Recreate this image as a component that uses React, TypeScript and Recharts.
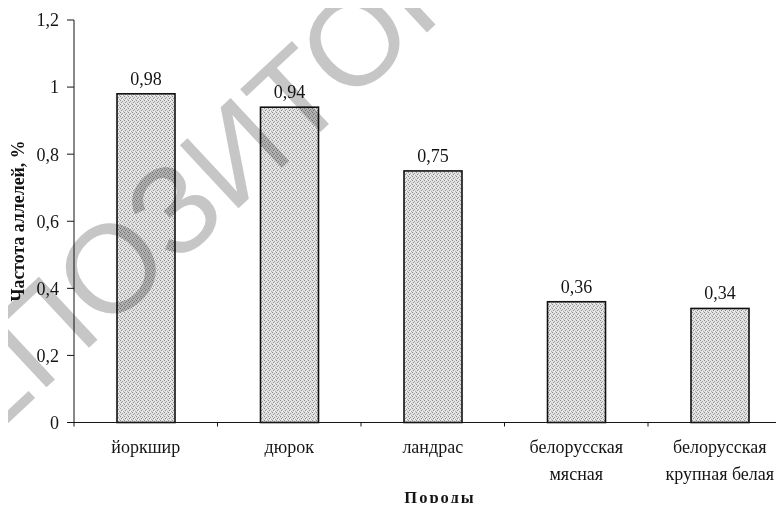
import { Bar, BarChart, LabelList, XAxis, YAxis } from 'recharts'

// Частота аллелей по породам свиней
const breeds = ['йоркшир', 'дюрок', 'ландрас', 'белорусская\nмясная', 'белорусская\nкрупная белая']
const frequencies = [0.98, 0.94, 0.75, 0.36, 0.34]
const yTicks = [0, 0.2, 0.4, 0.6, 0.8, 1, 1.2]

const data = breeds.map((breed, i) => ({ breed, value: frequencies[i] }))

const CHART_W = 800
const CHART_H = 511
const Y_AXIS_W = 74
const MARGIN = { top: 20, right: 8.5, bottom: 0, left: 0 }
const BAND = (CHART_W - MARGIN.right - Y_AXIS_W) / breeds.length
const SERIF = "'Liberation Serif', 'Times New Roman', serif"
const INK = '#151515'

const comma = (v: unknown) => String(v).replace('.', ',')

function BreedTick({ x, y, payload, index }: any) {
  const lines = String(payload.value).split('\n')
  const half = BAND / 2
  return (
    <g>
      {lines.map((line, i) => (
        <text
          key={i}
          x={x}
          y={y + 30 + i * 27}
          textAnchor="middle"
          fontFamily={SERIF}
          fontSize={18}
          fill={INK}
        >
          {line}
        </text>
      ))}
      {index === 0 ? <line x1={x - half} x2={x - half} y1={y} y2={y + 4} stroke={INK} /> : null}
      <line x1={x + half} x2={x + half} y1={y} y2={y + 4} stroke={INK} />
    </g>
  )
}

function StippleBar(props: any) {
  const { x, y, width, height } = props
  return (
    <rect
      x={x}
      y={y}
      width={width}
      height={height}
      fill="url(#stipple)"
      stroke="#111"
      strokeWidth={1.6}
    />
  )
}

export default function App() {
  return (
    <div
      style={{
        margin: -8,
        width: 784,
        height: 511,
        overflow: 'hidden',
        position: 'relative',
        background: '#fff',
      }}
    >
      {/* stippled fill, referenced from the chart's bars */}
      <svg width={0} height={0} style={{ position: 'absolute' }}>
        <defs>
          <pattern id="stipple" width={4} height={4} patternUnits="userSpaceOnUse">
            <rect width={4} height={4} fill="#e2e2e2" />
            <rect x={0} y={0} width={1} height={1} fill="#8c8c8c" />
            <rect x={2} y={1} width={1} height={1} fill="#a4a4a4" />
            <rect x={1} y={2} width={1} height={1} fill="#8c8c8c" />
            <rect x={3} y={3} width={1} height={1} fill="#a8a8a8" />
            <rect x={2} y={3} width={1} height={1} fill="#f6f6f6" />
          </pattern>
        </defs>
      </svg>
      <BarChart width={CHART_W} height={CHART_H} data={data} margin={MARGIN}>
        <XAxis
          dataKey="breed"
          height={88.5}
          interval={0}
          tickSize={0}
          tickMargin={0}
          tick={<BreedTick />}
          axisLine={{ stroke: INK, strokeWidth: 1 }}
          label={{
            content: () => (
              <text
                x={440}
                y={503}
                textAnchor="middle"
                fontFamily={SERIF}
                fontWeight="bold"
                fontSize={16.5}
                letterSpacing={2}
                fill={INK}
              >
                Породы
              </text>
            ),
          }}
        />
        <YAxis
          width={Y_AXIS_W}
          domain={[0, 1.2]}
          ticks={yTicks}
          interval={0}
          tickSize={7}
          tickMargin={8}
          tickFormatter={comma}
          tick={{ fontFamily: SERIF, fontSize: 18, fill: INK }}
          tickLine={{ stroke: INK }}
          axisLine={{ stroke: INK, strokeWidth: 1 }}
          label={{
            content: () => (
              <text
                x={24}
                y={221}
                transform="rotate(-90 24 221)"
                textAnchor="middle"
                fontFamily={SERIF}
                fontWeight="bold"
                fontSize={17.8}
                fill={INK}
              >
                Частота аллелей, %
              </text>
            ),
          }}
        />
        <Bar dataKey="value" barSize={58} shape={<StippleBar />} isAnimationActive={false}>
          <LabelList
            dataKey="value"
            position="top"
            offset={9}
            formatter={comma}
            fontFamily={SERIF}
            fontSize={18}
            fill={INK}
          />
        </Bar>
      </BarChart>
      {/* repository watermark lying across the chart */}
      <svg
        width={784}
        height={511}
        style={{ position: 'absolute', left: 0, top: 0, pointerEvents: 'none', mixBlendMode: 'multiply' }}
      >
        <text
          x={-83}
          y={508}
          transform="rotate(-43 -83 508)"
          fontFamily="'Liberation Sans', Arial, sans-serif"
          fontSize={125}
          fill="#c6c6c6"
        >
          РЕПОЗИТОРИЙ
        </text>
      </svg>
    </div>
  )
}
